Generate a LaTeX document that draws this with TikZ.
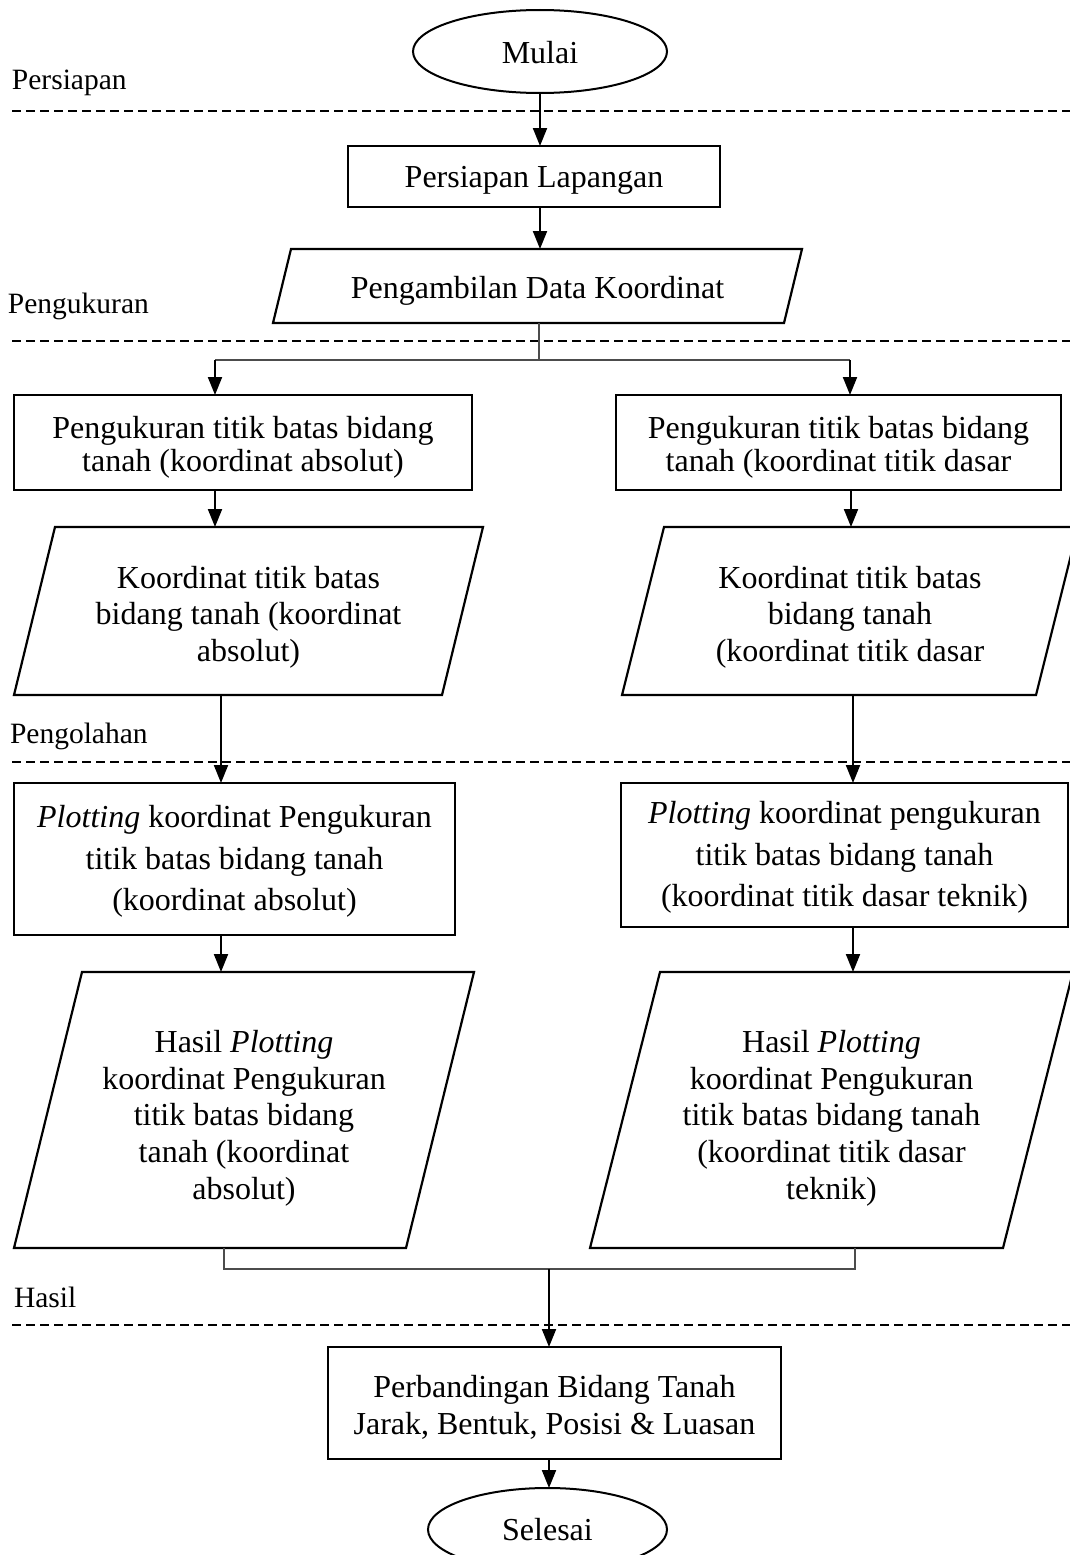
\documentclass[tikz,border=0pt]{standalone}
\usepackage{fontspec}
\setmainfont{Liberation Serif}
\usetikzlibrary{shapes.geometric,arrows.meta,calc}
\newcommand\parash[2]{\draw[pline] ($(#1.north west)+(#2,0)$) -- (#1.north east) -- ($(#1.south east)-(#2,0)$) -- (#1.south west) -- cycle;}
\begin{document}
\begin{tikzpicture}[x=1pt,y=-1pt,
  every node/.style={inner sep=0pt, outer sep=0pt},
  txt/.style={font=\fontsize{32}{36.7}\selectfont, align=center},
  procbox/.style={draw, line width=2.4pt, rectangle},
  termnode/.style={draw, line width=2pt, ellipse},
  parabox/.style={},
  pline/.style={line width=2.2pt, line join=miter},
  arr/.style={line width=2pt, -{Triangle[length=18pt,width=14pt]}},
  thinl/.style={line width=1.2pt, draw=black!70},
  lane/.style={line width=2pt, dash pattern=on 9pt off 5pt},
  lanelabel/.style={font=\fontsize{29.5}{32}\selectfont, anchor=base west}]
\path[use as bounding box, fill=white] (0,0) rectangle (1070,1555);

% lanes
\draw[lane] (12,111) -- (1070,111);
\draw[lane] (12,341) -- (1070,341);
\draw[lane] (12,762) -- (1070,762);
\draw[lane] (12,1325) -- (1070,1325);
\node[lanelabel] (lb1) at (12,89) {Persiapan};
\node[lanelabel] (lb2) at (8,313) {Pengukuran};
\node[lanelabel] (lb3) at (10,743) {Pengolahan};
\node[lanelabel] (lb4) at (14,1307) {Hasil};

% shapes
\node[termnode, minimum width=254pt, minimum height=83pt] (start) at (540,51.5) {};
\node[procbox, minimum width=372pt, minimum height=61pt] (prep) at (534,176.5) {};
\node[parabox, minimum width=529pt, minimum height=74pt] (data) at (537.5,286) {};
\parash{data}{18}
\node[procbox, minimum width=458pt, minimum height=95pt] (mL) at (243,442.5) {};
\node[procbox, minimum width=445pt, minimum height=95pt] (mR) at (838.5,442.5) {};
\node[parabox, minimum width=469pt, minimum height=168pt] (kL) at (248.5,611) {};
\parash{kL}{41}
\node[parabox, minimum width=456pt, minimum height=168pt] (kR) at (850,611) {};
\parash{kR}{42}
\node[procbox, minimum width=441pt, minimum height=152pt] (plL) at (234.5,859) {};
\node[procbox, minimum width=447pt, minimum height=144pt] (plR) at (844.5,855) {};
\node[parabox, minimum width=460pt, minimum height=276pt] (hL) at (244,1110) {};
\parash{hL}{68}
\node[parabox, minimum width=483pt, minimum height=276pt] (hR) at (831.5,1110) {};
\parash{hR}{70}
\node[procbox, minimum width=453pt, minimum height=112pt] (cmp) at (554.5,1403) {};
\node[termnode, minimum width=239pt, minimum height=83pt] (end) at (547.5,1529.5) {};

% texts
\node[txt] (startT) at ($(start)+(0,1)$) {Mulai};
\node[txt] (prepT) at ($(prep)+(0,4)$) {Persiapan Lapangan};
\node[txt] (dataT) at ($(data)+(0,5)$) {Pengambilan Data Koordinat};
\node[txt, font=\fontsize{32}{33.5}\selectfont] (mLT) at ($(mL)+(0,5)$) {Pengukuran titik batas bidang\\tanah (koordinat absolut)};
\node[txt, font=\fontsize{32}{33.5}\selectfont] (mRT) at ($(mR)+(0,5)$) {Pengukuran titik batas bidang\\tanah (koordinat titik dasar};
\node[txt] (kLT) at ($(kL)+(0,6)$) {Koordinat titik batas\\bidang tanah (koordinat\\absolut)};
\node[txt] (kRT) at ($(kR)+(0,6)$) {Koordinat titik batas\\bidang tanah\\(koordinat titik dasar};
\node[txt, font=\fontsize{32}{41.7}\selectfont] (plLT) at ($(plL)+(0,2.5)$) {\textit{Plotting} koordinat Pengukuran\\titik batas bidang tanah\\(koordinat absolut)};
\node[txt, font=\fontsize{32}{41.7}\selectfont] (plRT) at ($(plR)+(0,2.5)$) {\textit{Plotting} koordinat pengukuran\\titik batas bidang tanah\\(koordinat titik dasar teknik)};
\node[txt] (hLT) at ($(hL)+(0,8)$) {Hasil \textit{Plotting}\\koordinat Pengukuran\\titik batas bidang\\tanah (koordinat\\absolut)};
\node[txt] (hRT) at ($(hR)+(0,8)$) {Hasil \textit{Plotting}\\koordinat Pengukuran\\titik batas bidang tanah\\(koordinat titik dasar\\teknik)};
\node[txt] (cmpT) at ($(cmp)+(0,4)$) {Perbandingan Bidang Tanah\\Jarak, Bentuk, Posisi \& Luasan};
\node[txt] (endT) at (end) {Selesai};

% connectors
\coordinate (colC) at (540,0);
\draw[arr] (start.south -| colC) -- (prep.north -| colC);
\draw[arr] (prep.south -| colC) -- (data.north -| colC);
\coordinate (sC) at (539,360);
\coordinate (sL) at (215,360);
\coordinate (sR) at (850,360);
\draw[thinl] (data.south -| sC) -- (sC);
\draw[thinl] (sL) -- (sR);
\draw[arr] (sL) -- (mL.north -| sL);
\draw[arr] (sR) -- (mR.north -| sR);
\draw[arr] (mL.south -| sL) -- (kL.north -| sL);
\coordinate (cR1) at (851,0);
\draw[arr] (mR.south -| cR1) -- (kR.north -| cR1);
\coordinate (cL2) at (221,0);
\coordinate (cR2) at (853,0);
\draw[arr] (kL.south -| cL2) -- (plL.north -| cL2);
\draw[arr] (kR.south -| cR2) -- (plR.north -| cR2);
\draw[arr] (plL.south -| cL2) -- (hL.north -| cL2);
\draw[arr] (plR.south -| cR2) -- (hR.north -| cR2);
\coordinate (mgL) at (224,1269);
\coordinate (mgR) at (855,1269);
\coordinate (mgC) at (549,1269);
\draw[thinl] (hL.south -| mgL) -- (mgL) -- (mgR) -- (hR.south -| mgR);
\draw[arr] (mgC) -- (cmp.north -| mgC);
\draw[arr] (cmp.south -| mgC) -- (end.north -| mgC);
\end{tikzpicture}
\end{document}
